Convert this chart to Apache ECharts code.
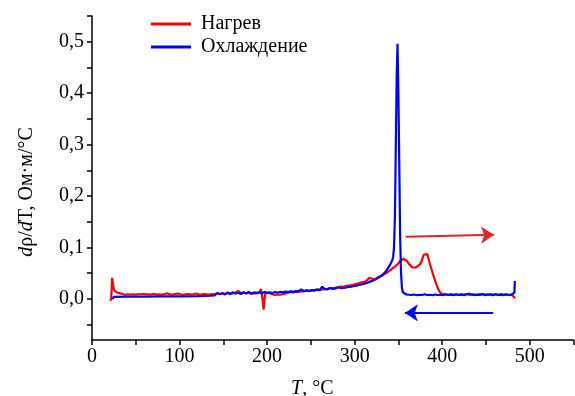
<!DOCTYPE html>
<html><head><meta charset="utf-8">
<script src="https://cdn.jsdelivr.net/npm/echarts@6/dist/echarts.min.js"></script>
<style>html,body{margin:0;padding:0;background:#fff}#c{width:575px;height:396px}</style>
</head><body><div id="c"></div>
<script>
const xTickValues = [0,50,100,150,200,250,300,350,400,450,500,550];
const xLabelValues = [0,100,200,300,400,500];
const yTickValues = [-0.05,0,0.05,0.1,0.15,0.2,0.25,0.3,0.35,0.4,0.45,0.5,0.55];
const yLabelValues = [0,0.1,0.2,0.3,0.4,0.5];
const seriesNames = ['Нагрев','Охлаждение'];

const heating = [
[21,-0.004],[22,0.002],[23,0.041],[24,0.028],[25,0.019],[26,0.015],[28,0.012],[30,0.0115],[32,0.010],[35,0.0095],
[38,0.008],[41,0.009],[44,0.0085],[47,0.009],[50,0.008],[53,0.0095],[56,0.009],[58,0.0125],[60,0.0095],[62,0.011],
[65,0.0085],[68,0.009],[71,0.0095],[74,0.008],[77,0.009],[80,0.0085],[83,0.0095],[86,0.011],[89,0.009],[92,0.0085],
[95,0.0095],[98,0.0105],[101,0.009],[104,0.008],[107,0.009],[110,0.0095],[113,0.0085],[116,0.009],[119,0.0105],[122,0.009],
[125,0.0085],[128,0.0095],[131,0.009],[134,0.0085],[137,0.0095],[140,0.009],[143,0.0105],[146,0.009],[149,0.011],[152,0.0095],
[155,0.0115],[158,0.010],[161,0.0105],[164,0.012],[167,0.0155],[170,0.011],[173,0.0125],[176,0.0105],[179,0.012],[182,0.0095],
[185,0.011],[188,0.0105],[191,0.012],[193,0.019],[194,0.009],[195,-0.004],[196,-0.021],[197,-0.002],[198,0.011],[200,0.0125],
[203,0.011],[206,0.009],[209,0.0075],[212,0.0085],[215,0.008],[218,0.009],[221,0.0105],[224,0.012],[227,0.0135],[230,0.0125],
[233,0.014],[236,0.0135],[239,0.015],[242,0.0145],[245,0.016],[248,0.015],[251,0.017],[254,0.0165],[257,0.018],[260,0.017],
[263,0.0185],[266,0.019],[269,0.0195],[272,0.021],[275,0.0205],[278,0.022],[281,0.0225],[284,0.024],[287,0.0235],[290,0.025],
[293,0.026],[296,0.0265],[299,0.028],[302,0.029],[305,0.0305],[308,0.032],[311,0.033],[314,0.036],[317,0.041],[319,0.039],
[322,0.038],[325,0.040],[328,0.043],[331,0.045],[334,0.048],[337,0.051],[340,0.055],[343,0.059],[346,0.063],[348,0.066],
[350,0.069],[352,0.074],[354,0.076],[356,0.078],[358,0.075],[360,0.073],[362,0.068],[364,0.065],[366,0.061],[368,0.059],
[370,0.061],[372,0.064],[374,0.066],[376,0.071],[378,0.081],[379,0.086],[381,0.084],[383,0.087],[385,0.074],[387,0.062],
[389,0.051],[391,0.040],[393,0.030],[395,0.021],[397,0.014],[399,0.010],[401,0.0085],[404,0.009],[407,0.008],[410,0.0095],
[413,0.0085],[416,0.009],[419,0.008],[422,0.0095],[425,0.0085],[428,0.009],[431,0.0105],[434,0.0085],[437,0.009],[440,0.008],
[443,0.0095],[446,0.0085],[449,0.009],[452,0.008],[455,0.0095],[458,0.0085],[461,0.009],[464,0.008],[467,0.0095],[470,0.0085],
[473,0.009],[476,0.008],[479,0.0085],[481,0.008],[482,0.004],[483,0.001]
];

const cooling = [
[483,0.035],[482.5,0.012],[482,0.0085],[479,0.008],[476,0.0075],[473,0.0085],[470,0.007],[467,0.008],[464,0.0075],[461,0.009],
[458,0.007],[455,0.008],[452,0.0085],[449,0.007],[446,0.0095],[443,0.0075],[440,0.008],[437,0.007],[434,0.0085],[431,0.008],
[428,0.0095],[425,0.007],[422,0.008],[419,0.0075],[416,0.0085],[413,0.007],[410,0.008],[407,0.0075],[404,0.0085],[401,0.007],
[398,0.008],[395,0.0075],[392,0.0085],[389,0.007],[386,0.008],[383,0.0075],[380,0.009],[377,0.0075],[374,0.008],[371,0.007],
[368,0.0085],[365,0.0075],[362,0.008],[359,0.0085],[357,0.009],[355,0.013],[354,0.022],[353,0.05],[352,0.12],[351,0.26],
[350,0.40],[349,0.496],[348,0.43],[347,0.29],[346,0.16],[345,0.10],[344,0.082],[343,0.075],[341,0.068],[339,0.062],
[337,0.057],[335,0.052],[332,0.047],[329,0.043],[326,0.040],[323,0.037],[320,0.035],[317,0.033],[314,0.031],[311,0.0295],
[308,0.028],[305,0.027],[302,0.0255],[299,0.025],[296,0.0235],[293,0.023],[290,0.022],[287,0.0215],[284,0.021],[281,0.0225],
[278,0.020],[275,0.0195],[272,0.021],[269,0.0185],[266,0.019],[263,0.0235],[260,0.0175],[257,0.018],[254,0.0165],[251,0.017],
[248,0.0155],[245,0.0165],[242,0.015],[239,0.0185],[236,0.0145],[233,0.015],[230,0.0135],[227,0.0145],[224,0.013],[221,0.014],
[218,0.0125],[215,0.0135],[212,0.012],[209,0.0135],[206,0.011],[203,0.0125],[200,0.012],[197,0.0135],[194,0.011],[191,0.013],
[188,0.0115],[185,0.0125],[182,0.0105],[179,0.0135],[176,0.011],[173,0.0125],[170,0.0095],[167,0.012],[164,0.0105],[161,0.013],
[158,0.009],[155,0.0125],[152,0.0085],[149,0.011],[146,0.0095],[143,0.0115],[141,0.009],[140,0.0065],[135,0.006],[120,0.0055],
[100,0.005],[80,0.005],[60,0.0045],[40,0.0045],[25,0.004],[24,0.004],[23.5,-0.001]
];

const heatArrow = [[358.3,0.121],[459.2,0.1245]];
const coolArrow = [[458.3,-0.0273],[357.4,-0.0273]];

const FONT = '"Liberation Serif","Times New Roman",serif';
const chart = echarts.init(document.getElementById('c'), null, {renderer:'canvas'});
const fmtY = v => v.toFixed(1).replace('.', ',');
chart.setOption({
  animation:false,
  backgroundColor:'#fff',
  grid:{left:92, right:1.5, top:16, bottom:56, containLabel:false, outerBoundsMode:'none'},
  legend:{
    data:seriesNames, orient:'vertical', left:151, top:14, padding:0, icon:'rect',
    itemWidth:40, itemHeight:3, itemGap:3,
    textStyle:{fontFamily:FONT, fontSize:20, color:'#000', padding:[0,0,0,5]}
  },
  xAxis:{
    type:'value', min:0, max:550,
    axisLine:{show:true, onZero:false, lineStyle:{color:'#000', width:1.5}},
    axisTick:{show:true, customValues:xTickValues, length:5, inside:false, lineStyle:{color:'#000', width:1.5}},
    axisLabel:{customValues:xLabelValues, fontFamily:FONT, fontSize:20, color:'#000', margin:7},
    splitLine:{show:false},
    name:'{i|T}, °C', nameLocation:'middle', nameGap:39,
    nameTextStyle:{fontFamily:FONT, fontSize:20, color:'#000', padding:[0,41,0,0],
      rich:{i:{fontFamily:FONT, fontSize:20, fontStyle:'italic', color:'#000'}}}
  },
  yAxis:{
    type:'value', min:-0.08, max:0.55,
    axisLine:{show:true, onZero:false, lineStyle:{color:'#000', width:1.5}},
    axisTick:{show:true, customValues:yTickValues, length:5, inside:false, lineStyle:{color:'#000', width:1.5}},
    axisLabel:{customValues:yLabelValues, formatter:fmtY, fontFamily:FONT, fontSize:20, color:'#000', margin:8},
    splitLine:{show:false},
    name:'{i|d}ρ/{i|d}T, Ом·м/°C', nameLocation:'middle', nameGap:55,
    nameTextStyle:{fontFamily:FONT, fontSize:20, color:'#000', padding:[0,28,0,0],
      rich:{i:{fontFamily:FONT, fontSize:20, fontStyle:'italic', color:'#000'}}}
  },
  series:[
    {name:seriesNames[0], type:'line', data:heating, symbol:'none', color:'#ff0000',
     lineStyle:{color:'#ff0000', width:2.2}, z:2},
    {name:seriesNames[1], type:'line', data:cooling, symbol:'none', color:'#0000ff',
     lineStyle:{color:'#0000ff', width:2.2}, z:3},
    {type:'lines', coordinateSystem:'cartesian2d', silent:true, z:4,
     symbol:['none','arrow'], symbolSize:13,
     lineStyle:{color:'#dc2a20', width:2, opacity:1},
     data:[{coords:heatArrow}]},
    {type:'lines', coordinateSystem:'cartesian2d', silent:true, z:4,
     symbol:['none','arrow'], symbolSize:13,
     lineStyle:{color:'#0000ff', width:2, opacity:1},
     data:[{coords:coolArrow}]}
  ]
});
</script></body></html>
